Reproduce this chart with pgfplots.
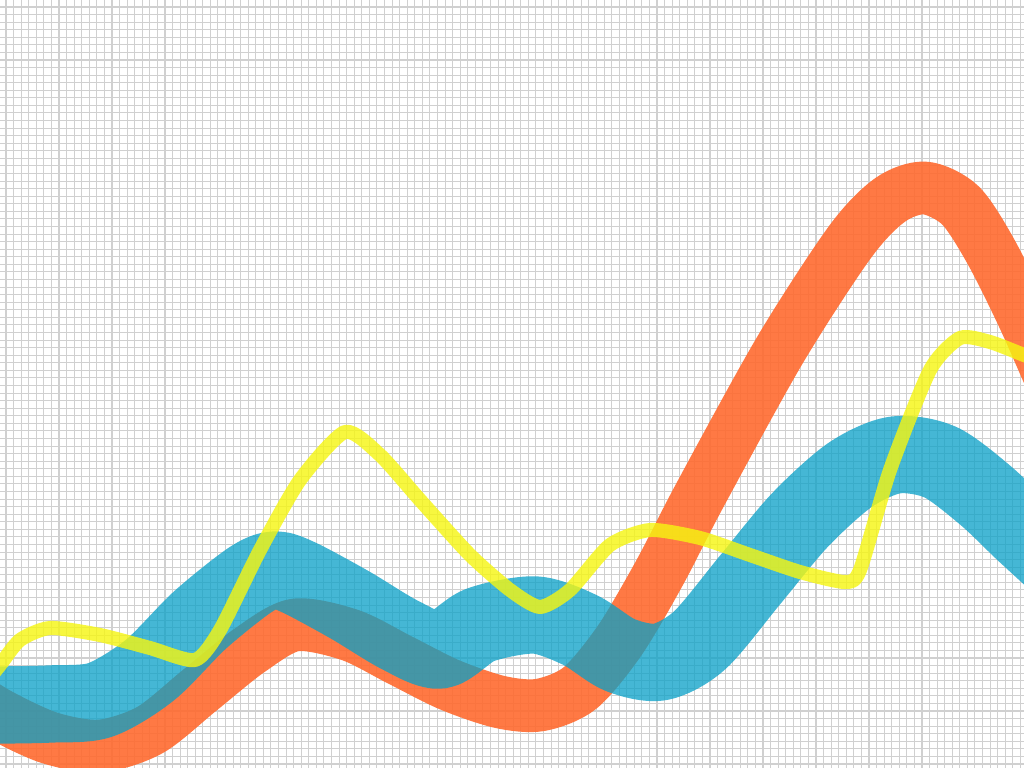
\documentclass[border=0pt]{standalone}
\usepackage{pgfplots}
\pgfplotsset{compat=1.18}
\definecolor{bandorange}{RGB}{255,107,48}
\definecolor{bandblue}{RGB}{8,160,199}
\definecolor{bandyellow}{RGB}{246,246,16}
\definecolor{gridgray}{RGB}{208,208,208}
\begin{document}
\begin{tikzpicture}
\begin{axis}[
    width=10.24cm, height=7.68cm,
    scale only axis,
    xmin=0, xmax=1024,
    ymin=0, ymax=768,
    y dir=reverse,
    axis line style={draw=none},
    tick style={draw=none},
    xticklabels={}, yticklabels={},
    xtick={6,13.57,...,1024},
    ytick={7,14.57,...,768},
    grid=major,
    grid style={gridgray, line width=0.3pt},
    axis background/.style={fill=white},
    clip=true,
]
% orange band
\addplot[bandorange, opacity=0.9, line width=15pt, smooth, line join=round]
coordinates {
(-40,690)(0,715)(50,738)(100,746)(150,730)(200,690)(250,650)(295,625)(350,635)
(400,660)(450,685)(500,702)(540,705)(580,688)(620,640)(660,572)(700,495)
(780,350)(850,242)(890,200)(925,188)(960,205)(990,250)(1024,318)(1060,400)
};
% blue band
\addplot[bandblue, opacity=0.75, line width=22pt, smooth, line join=round]
coordinates {
(-40,705)(0,705)(50,704)(100,700)(150,670)(200,620)(250,580)(275,570)(300,578)
(350,605)(400,635)(440,650)(480,625)(535,615)(580,630)(620,655)(660,662)
(700,640)(750,580)(800,520)(850,475)(895,455)(940,462)(985,495)(1024,532)(1060,565)
};
% yellow line
\addplot[bandyellow, opacity=0.8, line width=4pt, smooth, tension=0.4, line join=round]
coordinates {
(-20,690)(0,665)(20,640)(50,628)(100,635)(150,648)(195,660)(220,630)(260,550)
(300,480)(345,432)(380,455)(420,500)(470,555)(510,590)(540,607)(570,590)
(610,545)(650,530)(700,538)(750,555)(800,572)(845,582)(860,570)(890,470)
(930,370)(960,338)(990,342)(1024,355)(1050,365)
};
\end{axis}
\pgfresetboundingbox
\useasboundingbox (current axis.south west) rectangle (current axis.north east);
\end{tikzpicture}
\end{document}
